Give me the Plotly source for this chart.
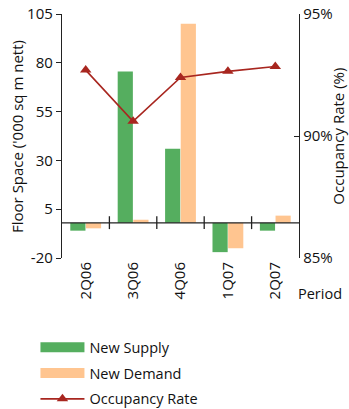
import plotly.graph_objects as go

# Quarterly floor space movements and occupancy
periods = ["2Q06", "3Q06", "4Q06", "1Q07", "2Q07"]
new_supply = [-6.0, 75.5, 36.0, -17.0, -6.0]
new_demand = [-4.8, -0.4, 100.0, -15.0, 1.7]
occupancy = [92.7, 90.6, 92.4, 92.65, 92.85]

floor_ticks = [-20, 5, 30, 55, 80, 105]
floor_labels = ["-20", "5", "30", "55", "80", "105"]
occ_ticks = [85, 90, 95]
occ_labels = ["85%", "90%", "95%"]

# value at which the category axis crosses the floor-space axis
axis_cross = -2.0

GREEN = "#55ae5f"
ORANGE = "#ffc590"
RED = "#a8261f"
FONT = "Open Sans"

fig = go.Figure()

fig.add_trace(go.Bar(
    x=periods, y=[v - axis_cross for v in new_supply], base=axis_cross,
    marker=dict(color=GREEN, line=dict(width=0)), showlegend=False,
))
fig.add_trace(go.Bar(
    x=periods, y=[v - axis_cross for v in new_demand], base=axis_cross,
    marker=dict(color=ORANGE, line=dict(width=0)), showlegend=False,
))
fig.add_trace(go.Scatter(
    x=periods, y=occupancy, yaxis="y2", mode="lines+markers",
    line=dict(color=RED, width=1.6),
    marker=dict(symbol="triangle-up", size=10, color=RED),
    showlegend=False,
))

# legend entries
fig.add_trace(go.Scatter(x=[None], y=[None], mode="lines", name="New Supply",
                         line=dict(color=GREEN, width=10), legendgroup="a"))
fig.add_trace(go.Scatter(x=[None], y=[None], mode="lines", name="New Demand",
                         line=dict(color=ORANGE, width=10), legendgroup="b"))
fig.add_trace(go.Scatter(x=[None], y=[None], mode="lines+markers", name="Occupancy Rate",
                         line=dict(color=RED, width=1.6),
                         marker=dict(symbol="triangle-up", size=10, color=RED),
                         legendgroup="c"))

# category axis line and dividers between periods
shapes = [dict(type="line", xref="paper", yref="y", x0=0, x1=1, y0=axis_cross, y1=axis_cross,
               line=dict(color="#222", width=1.3))]
for i in range(len(periods) - 1):
    shapes.append(dict(type="line", xref="x", yref="y", x0=i + 0.5, x1=i + 0.5,
                       y0=axis_cross - 3.2, y1=axis_cross + 3.4,
                       line=dict(color="#222", width=1.3)))

fig.update_layout(
    width=349, height=409,
    margin=dict(l=62, r=50, t=14, b=151, autoexpand=False),
    paper_bgcolor="white", plot_bgcolor="white",
    font=dict(family=FONT, size=15, color="#111"),
    barmode="group", bargap=0.34, bargroupgap=0.03,
    shapes=shapes,
    xaxis=dict(
        type="category", showline=False, showgrid=False, zeroline=False,
        ticks="", tickangle=-90, tickfont=dict(size=15), automargin=False,
        range=[-0.5, len(periods) - 0.5],
    ),
    yaxis=dict(
        range=[-20, 105], tickvals=floor_ticks, ticktext=floor_labels,
        showgrid=False, zeroline=False, automargin=False,
        showline=True, linecolor="#222", linewidth=1.3,
        ticks="outside", ticklen=5, tickcolor="#222", tickwidth=1.3,
        tickfont=dict(size=15),
    ),
    yaxis2=dict(
        overlaying="y", side="right", range=[85, 95],
        tickvals=occ_ticks, ticktext=occ_labels,
        showgrid=False, zeroline=False, automargin=False,
        showline=True, linecolor="#222", linewidth=1.3,
        ticks="inside", ticklen=5, tickcolor="#222", tickwidth=1.3,
        tickfont=dict(size=15),
    ),
    legend=dict(
        x=-0.112, y=-0.3, xanchor="left", yanchor="top", itemwidth=44,
        font=dict(size=14.5), tracegroupgap=4, bgcolor="rgba(0,0,0,0)",
    ),
    annotations=[
        dict(text="Floor Space ('000 sq m nett)", xref="paper", yref="paper",
             x=-0.19, y=0.5, xanchor="center", yanchor="middle", textangle=-90,
             showarrow=False, font=dict(size=15)),
        dict(text="Occupancy Rate (%)", xref="paper", yref="paper",
             x=1.163, y=0.5, xanchor="center", yanchor="middle", textangle=-90,
             showarrow=False, font=dict(size=15)),
        dict(text="Period", xref="paper", yref="paper",
             x=1.19, y=-0.145, xanchor="right", yanchor="middle",
             showarrow=False, font=dict(size=14.5)),
    ],
)

fig.write_html("out.html")
